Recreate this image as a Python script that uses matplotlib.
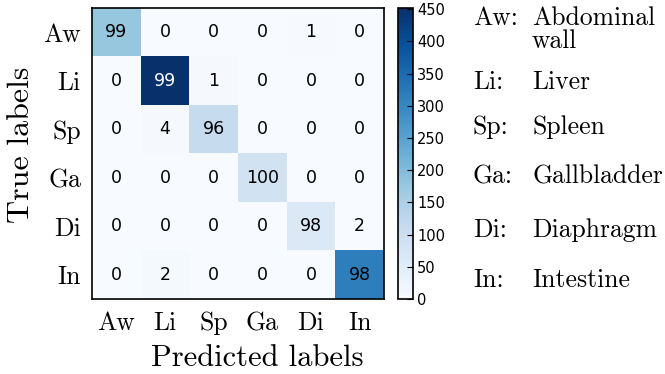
import numpy as np
import matplotlib
matplotlib.use('Agg')
import matplotlib.pyplot as plt

labels = ['Aw', 'Li', 'Sp', 'Ga', 'Di', 'In']
names = ['Abdominal\nwall', 'Liver', 'Spleen', 'Gallbladder', 'Diaphragm', 'Intestine']

# estimated sample counts (drive the colours)
counts = np.array([
    [178, 0, 0, 0, 2, 0],
    [0, 452, 4, 0, 0, 0],
    [0, 5, 110, 0, 0, 0],
    [0, 0, 0, 85, 0, 0],
    [0, 0, 0, 0, 62, 1],
    [0, 6, 0, 0, 0, 315],
])

# row-normalised percentages shown in the cells
percent = np.array([
    [99, 0, 0, 0, 1, 0],
    [0, 99, 1, 0, 0, 0],
    [0, 4, 96, 0, 0, 0],
    [0, 0, 0, 100, 0, 0],
    [0, 0, 0, 0, 98, 2],
    [0, 2, 0, 0, 0, 98],
])

serif = 'cmr10'

fig = plt.figure(figsize=(6.65, 3.74), dpi=100)
ax = fig.add_axes([92 / 665, 1 - 299 / 374, 292 / 665, 291 / 374])
cax = fig.add_axes([398 / 665, 1 - 299 / 374, 15 / 665, 291 / 374])

im = ax.imshow(counts, cmap='Blues', vmin=0, vmax=counts.max(), aspect='auto')

for i in range(len(labels)):
    for j in range(len(labels)):
        c = 'white' if counts[i, j] > 400 else 'black'
        ax.text(j, i, str(percent[i, j]), ha='center', va='center',
                fontsize=12.5, color=c)

ax.set_xticks(range(len(labels)))
ax.set_yticks(range(len(labels)))
ax.set_xticklabels(labels, fontfamily=serif, fontsize=18.5)
ax.set_yticklabels(labels, fontfamily=serif, fontsize=18.5)
ax.tick_params(axis='x', length=0, pad=9)
ax.tick_params(axis='y', length=0, pad=8)
ax.set_xlabel('Predicted labels', fontfamily=serif, fontsize=22)
ax.set_ylabel('True labels', fontfamily=serif, fontsize=23)
ax.xaxis.set_label_coords(0.567, -0.155)
ax.yaxis.set_label_coords(-0.195, 0.53)
for s in ax.spines.values():
    s.set_linewidth(1.2)

cb = fig.colorbar(im, cax=cax)
cb.set_ticks(np.arange(0, 451, 50))
cb.ax.tick_params(labelsize=10.5, direction='in', length=4, width=0.8, pad=3)
cb.outline.set_linewidth(1.2)

# legend of abbreviations on the right
ys = [18, 82, 127, 177, 230, 280]
for ab, nm, y in zip(labels, names, ys):
    fig.text(473 / 665, 1 - y / 374, ab + ':', fontfamily=serif, fontsize=18.5,
             va='center', ha='left')
    for k, line in enumerate(nm.split('\n')):
        fig.text(532 / 665, 1 - (y + 23 * k) / 374, line, fontfamily=serif,
                 fontsize=18.5, va='center', ha='left')

fig.savefig('out.png', dpi=100)
